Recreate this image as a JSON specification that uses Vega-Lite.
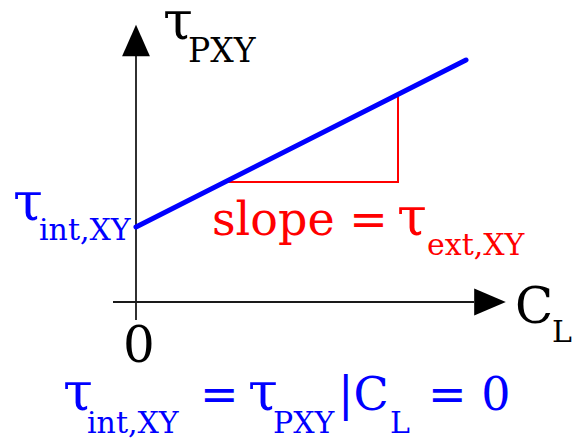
{
  "$schema": "https://vega.github.io/schema/vega-lite/v6.json",
  "width": 572,
  "height": 438,
  "padding": 0,
  "autosize": "none",
  "config": {"view": {"stroke": null}},
  "datasets": {
    "axes": [
      {"x": 0, "y": -18, "x2": 0, "y2": 246},
      {"x": -23, "y": 0, "x2": 338, "y2": 0}
    ],
    "heads": [
      {"x": 0, "y": 261.5, "dir": "up"},
      {"x": 354, "y": 0, "dir": "right"}
    ],
    "trend": [
      {"x": 0, "y": 75},
      {"x": 330, "y": 242}
    ],
    "rise": [
      {"step": 1, "x": 89, "y": 120},
      {"step": 2, "x": 262, "y": 120},
      {"step": 3, "x": 262, "y": 208}
    ],
    "labels": [
      {"x": 27, "y": 263, "text": "τ", "tone": "ink", "level": "tau"},
      {"x": 52, "y": 240, "text": "PXY", "tone": "ink", "level": "subBig"},
      {"x": 379, "y": -21, "text": "C", "tone": "ink", "level": "big"},
      {"x": 416, "y": -40, "text": "L", "tone": "ink", "level": "sub"},
      {"x": -13, "y": -60, "text": "0", "tone": "ink", "level": "big"},
      {"x": -123, "y": 82, "text": "τ", "tone": "intercept", "level": "tau"},
      {"x": -97, "y": 62, "text": "int,XY", "tone": "intercept", "level": "sub"},
      {"x": 76, "y": 67, "text": "slope =", "tone": "slope", "level": "main"},
      {"x": 261, "y": 67, "text": "τ", "tone": "slope", "level": "tau"},
      {"x": 291, "y": 47, "text": "ext,XY", "tone": "slope", "level": "sub"},
      {"x": -73, "y": -108, "text": "τ", "tone": "intercept", "level": "tau"},
      {"x": -49, "y": -131, "text": "int,XY", "tone": "intercept", "level": "sub"},
      {"x": 64, "y": -108, "text": "=", "tone": "intercept", "level": "main"},
      {"x": 112, "y": -108, "text": "τ", "tone": "intercept", "level": "tau"},
      {"x": 137, "y": -131, "text": "PXY", "tone": "intercept", "level": "sub"},
      {"x": 202, "y": -108, "text": "|C", "tone": "intercept", "level": "main"},
      {"x": 254, "y": -131, "text": "L", "tone": "intercept", "level": "sub"},
      {"x": 292, "y": -108, "text": "= 0", "tone": "intercept", "level": "main"}
    ]
  },
  "encoding": {
    "x": {"field": "x", "type": "quantitative", "axis": null,
          "scale": {"domain": [-136, 436], "nice": false, "zero": false}},
    "y": {"field": "y", "type": "quantitative", "axis": null,
          "scale": {"domain": [-136, 302], "nice": false, "zero": false}}
  },
  "layer": [
    {
      "data": {"name": "axes"},
      "mark": {"type": "rule", "color": "#1a1a1a", "strokeWidth": 1.8},
      "encoding": {
        "x2": {"field": "x2"},
        "y2": {"field": "y2"}
      }
    },
    {
      "data": {"name": "heads"},
      "mark": {"type": "point", "filled": true, "color": "#000000", "opacity": 1, "strokeWidth": 0, "size": 1000},
      "encoding": {
        "shape": {"field": "dir", "type": "nominal", "legend": null,
                  "scale": {"domain": ["up", "right"],
                            "range": ["M0,-1L0.88,1L-0.88,1Z", "M1,0L-1,0.86L-1,-0.86Z"]}}
      }
    },
    {
      "data": {"name": "rise"},
      "mark": {"type": "line", "color": "#ff0000", "strokeWidth": 2},
      "encoding": {"order": {"field": "step"}}
    },
    {
      "data": {"name": "trend"},
      "mark": {"type": "line", "color": "#0000ff", "strokeWidth": 5, "strokeCap": "round"},
      "encoding": {}
    },
    {
      "data": {"name": "labels"},
      "encoding": {
        "text": {"field": "text"},
        "color": {"field": "tone", "type": "nominal", "legend": null,
                  "scale": {"domain": ["ink", "intercept", "slope"], "range": ["#000000", "#0000ff", "#ff0000"]}}
      },
      "layer": [
        {"transform": [{"filter": "datum.level === 'tau'"}],
         "mark": {"type": "text", "font": "DejaVu Serif", "fontSize": 54, "align": "left", "baseline": "alphabetic"}},
        {"transform": [{"filter": "datum.level === 'big'"}],
         "mark": {"type": "text", "font": "DejaVu Serif", "fontSize": 50, "align": "left", "baseline": "alphabetic"}},
        {"transform": [{"filter": "datum.level === 'main'"}],
         "mark": {"type": "text", "font": "DejaVu Serif", "fontSize": 46, "align": "left", "baseline": "alphabetic"}},
        {"transform": [{"filter": "datum.level === 'sub'"}],
         "mark": {"type": "text", "font": "DejaVu Serif", "fontSize": 30, "align": "left", "baseline": "alphabetic"}},
        {"transform": [{"filter": "datum.level === 'subBig'"}],
         "mark": {"type": "text", "font": "DejaVu Serif", "fontSize": 33, "align": "left", "baseline": "alphabetic"}}
      ]
    }
  ]
}
